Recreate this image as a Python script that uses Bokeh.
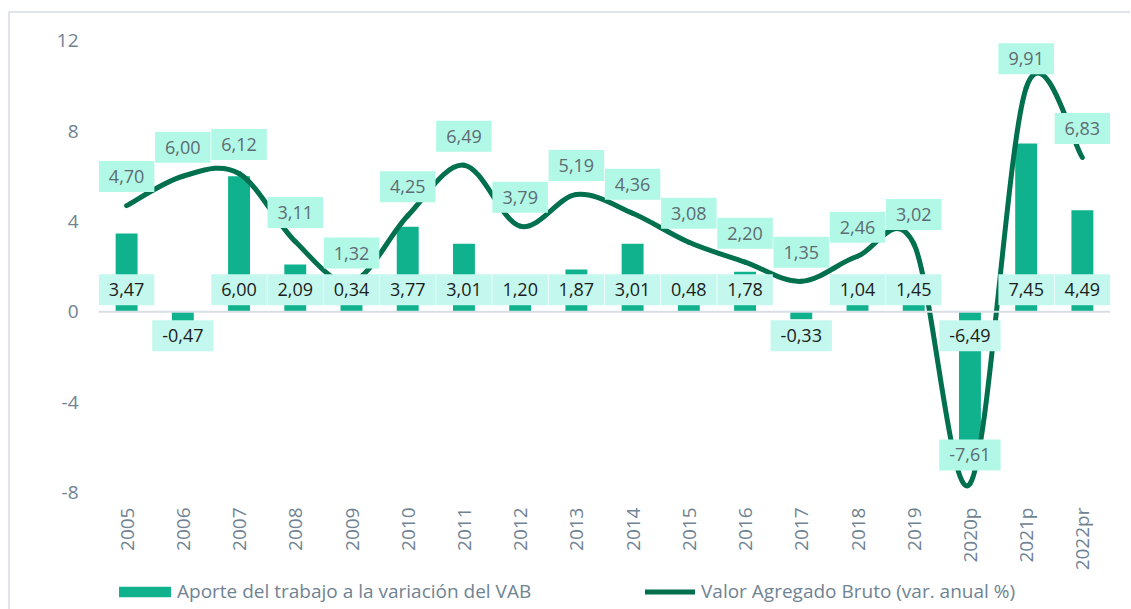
import math
from bokeh.plotting import figure
from bokeh.layouts import column
from bokeh.models import FixedTicker, Span, Legend, LegendItem, Range1d
from bokeh.core.properties import value
from bokeh.embed import file_html
from bokeh.resources import INLINE

categories = ["2005", "2006", "2007", "2008", "2009", "2010", "2011", "2012", "2013",
              "2014", "2015", "2016", "2017", "2018", "2019", "2020p", "2021p", "2022pr"]
aporte = [3.47, -0.47, 6.00, 2.09, 0.34, 3.77, 3.01, 1.20, 1.87, 3.01, 0.48, 1.78,
          -0.33, 1.04, 1.45, -6.49, 7.45, 4.49]
vab = [4.70, 6.00, 6.12, 3.11, 1.32, 4.25, 6.49, 3.79, 5.19, 4.36, 3.08, 2.20,
       1.35, 2.46, 3.02, -7.61, 9.91, 6.83]
y_ticks = [-8, -4, 0, 4, 8, 12]
series_names = ["Aporte del trabajo a la variación del VAB",
                "Valor Agregado Bruto (var. anual %)"]

FONT_NAME = "Open Sans"
FONT = value(FONT_NAME)
GREY = "#6f8393"
BAR = "#10b28e"
LINE = "#00704f"


def fmt(v):
    return f"{v:.2f}".replace(".", ",")


xs = list(range(len(categories)))

p = figure(width=1120, height=560, x_range=Range1d(-0.5, len(categories) - 0.5),
           y_range=Range1d(-8.3, 12.8), output_backend="svg", toolbar_location=None,
           min_border_left=88, min_border_right=20, min_border_top=9,
           min_border_bottom=74)
p.outline_line_color = None
p.xgrid.visible = False
p.ygrid.visible = False
p.background_fill_color = "white"
p.border_fill_color = "white"

zero = Span(location=0, dimension="width", line_color="#d8dee4", line_width=2)
p.add_layout(zero)

bars = p.vbar(x=xs, top=aporte, width=0.39, fill_color=BAR, line_color=None)

# smooth curve through the series (Catmull-Rom as cubic Bezier segments)
n = len(vab)
bx0, by0, bx1, by1, bcx0, bcy0, bcx1, bcy1 = [], [], [], [], [], [], [], []
for i in range(n - 1):
    pm = max(i - 1, 0)
    pp = min(i + 2, n - 1)
    bx0.append(xs[i]); by0.append(vab[i])
    bx1.append(xs[i + 1]); by1.append(vab[i + 1])
    bcx0.append(xs[i] + (xs[i + 1] - xs[pm]) / 6)
    bcy0.append(vab[i] + (vab[i + 1] - vab[pm]) / 6)
    bcx1.append(xs[i + 1] - (xs[pp] - xs[i]) / 6)
    bcy1.append(vab[i + 1] - (vab[pp] - vab[i]) / 6)
p.bezier(x0=bx0, y0=by0, x1=bx1, y1=by1, cx0=bcx0, cy0=bcy0, cx1=bcx1, cy1=bcy1,
         line_color=LINE, line_width=5, line_cap="round")

# labels for the line
p.text(x=xs, y=vab, text=[fmt(v) for v in vab], y_offset=-29, anchor="center",
       text_align="center", text_baseline="middle", text_font=FONT,
       text_font_size="18px", text_color="#5f6b72",
       background_fill_color="#b1f9e6",
       padding=dict(left=10, right=10, top=9, bottom=9))

# labels for the bars
bar_off = [-22 if v >= 0 else 24 for v in aporte]
p.text(x=xs, y=[0] * n, text=[fmt(v) for v in aporte], y_offset=bar_off, anchor="center",
       text_align="center", text_baseline="middle", text_font=FONT,
       text_font_size="18px", text_color="#1c1c1c",
       background_fill_color="#c4f8ee",
       padding=dict(left=10, right=10, top=9, bottom=9))

p.yaxis.ticker = FixedTicker(ticks=y_ticks)
p.yaxis.major_label_overrides = {t: str(t) for t in y_ticks}
p.yaxis.axis_line_color = None
p.yaxis.major_tick_line_color = None
p.yaxis.minor_tick_line_color = None
p.yaxis.major_tick_out = 0
p.yaxis.major_label_standoff = 20
p.yaxis.major_label_text_font = FONT_NAME
p.yaxis.major_label_text_font_size = "19px"
p.yaxis.major_label_text_color = GREY

p.xaxis.ticker = FixedTicker(ticks=xs)
p.xaxis.major_label_overrides = {i: c for i, c in enumerate(categories)}
p.xaxis.major_label_orientation = math.pi / 2
p.xaxis.axis_line_color = None
p.xaxis.major_tick_line_color = None
p.xaxis.minor_tick_line_color = None
p.xaxis.major_tick_out = 0
p.xaxis.major_label_standoff = 8
p.xaxis.major_label_text_font = FONT_NAME
p.xaxis.major_label_text_font_size = "19px"
p.xaxis.major_label_text_color = GREY

# legend strip (its sample glyphs sit far outside the visible range)
lg = figure(width=1120, height=36, x_range=Range1d(0, 1), y_range=Range1d(0, 1),
            output_backend="svg", toolbar_location=None, min_border=0)
lg.outline_line_color = None
lg.axis.visible = False
lg.grid.visible = False
lg.border_fill_color = "white"
lg_bar = lg.vbar(x=[-50], top=[-50], bottom=[-51], width=0.4, fill_color=BAR, line_color=None)
lg_line = lg.line(x=[-50, -49], y=[-50, -50], line_color=LINE, line_width=5, line_cap="round")


def make_legend(label, rend, x, gw, gh, standoff):
    return Legend(items=[LegendItem(label=label, renderers=[rend])], location=(x, 5),
                  orientation="horizontal", glyph_width=gw, glyph_height=gh,
                  label_standoff=standoff, padding=0, margin=0, border_line_color=None,
                  background_fill_alpha=0, label_text_font=FONT_NAME,
                  label_text_font_size="19px", label_text_color=GREY)


lg.add_layout(make_legend(series_names[0], lg_bar, 14, 65, 13, 0))
lg.add_layout(make_legend(series_names[1], lg_line, 547, 50, 13, 6))

layout = column(p, lg, spacing=0)
layout.styles = {"border-top": "2px solid #e1e5ea", "border-left": "2px solid #e1e5ea",
                 "margin-top": "11px", "margin-left": "8px"}

open("out.html", "w").write(file_html(layout, INLINE))
